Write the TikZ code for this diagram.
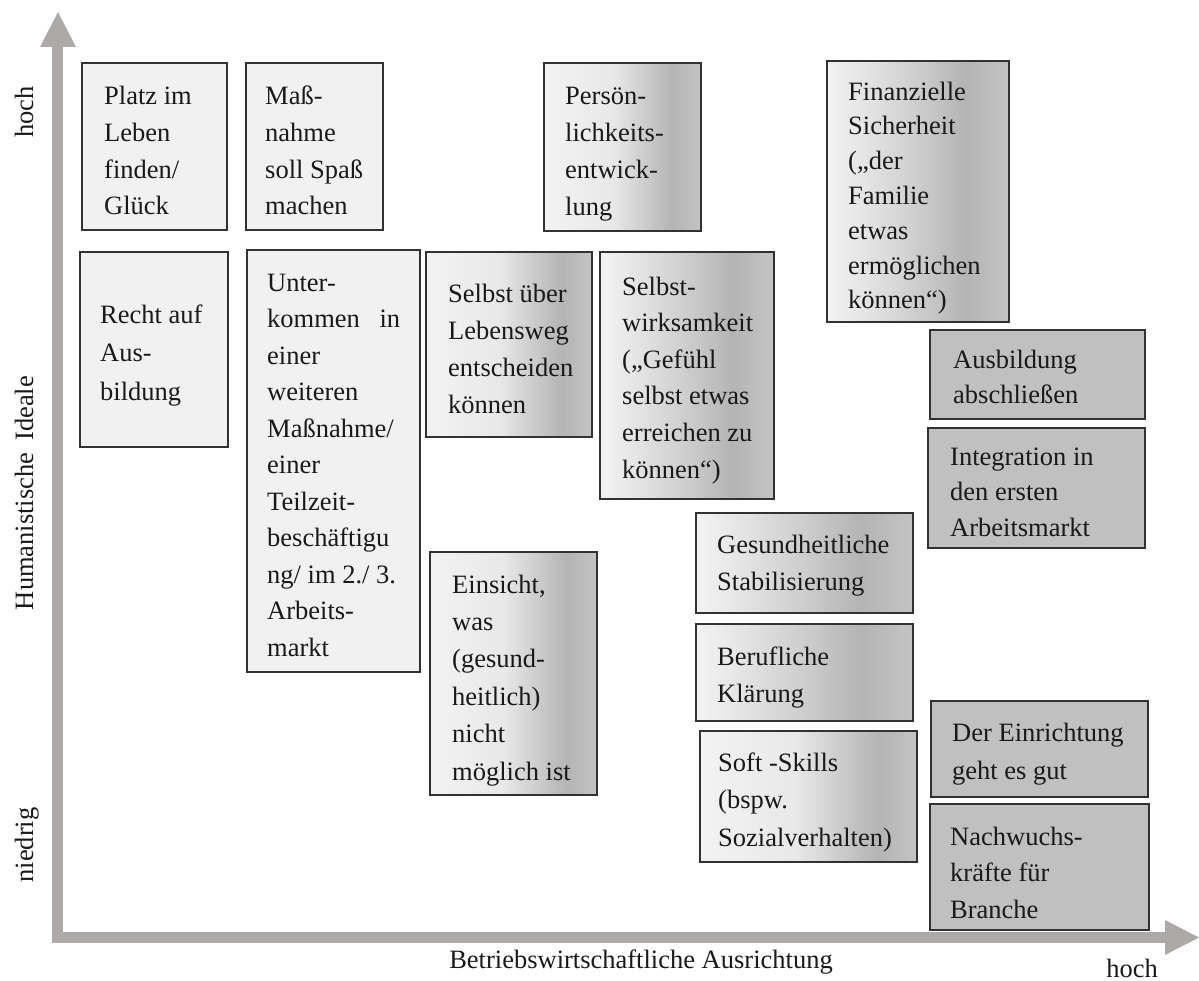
\documentclass[tikz,border=0pt]{standalone}
\usepackage{fontspec}
\setmainfont{Liberation Serif}
\definecolor{axisgray}{RGB}{173,169,169}
\definecolor{lightfill}{RGB}{241,241,241}
\definecolor{darkfill}{RGB}{192,192,192}
\definecolor{ga}{RGB}{243,243,243}
\definecolor{gb}{RGB}{232,232,232}
\definecolor{gc}{RGB}{205,205,205}
\definecolor{gd}{RGB}{180,180,180}
\definecolor{ge}{RGB}{196,196,196}
\definecolor{edgecol}{RGB}{50,50,50}
\definecolor{textcol}{RGB}{25,25,25}
\pgfdeclarehorizontalshading{gradA}{100bp}{color(0bp)=(ga); color(25bp)=(ga); color(47bp)=(gb); color(66bp)=(gd); color(75bp)=(ge); color(100bp)=(ge)}
\pgfdeclarehorizontalshading{gradB}{100bp}{color(0bp)=(ga); color(25bp)=(ga); color(33bp)=(gb); color(50bp)=(gc); color(63bp)=(gd); color(75bp)=(ge); color(100bp)=(ge)}
\tikzset{
  box/.style={draw=edgecol, line width=1.6pt, anchor=north west, inner sep=0pt, outer sep=0pt},
  lightbox/.style={box, fill=lightfill},
  darkbox/.style={box, fill=darkfill},
  gradbox/.style={box, shading=gradA},
  gradboxb/.style={box, shading=gradB},
  txt/.style={anchor=base west, inner sep=0pt, align=left, text=textcol, font=\fontsize{26.5}{#1}\selectfont},
  txt/.default=36.7,
  axlabel/.style={inner sep=0pt, text=textcol, font=\fontsize{26.5}{30}\selectfont},
}
\begin{document}
\begin{tikzpicture}[x=1pt, y=-1pt]
\useasboundingbox (0,0) rectangle (1199,981);
% axes
\coordinate (ytop) at (57,47);
\coordinate (orig) at (57,937);
\coordinate (xend) at (1165,937);
\draw[axisgray, line width=11pt, line join=miter] (ytop) -- (orig) -- (xend);
\fill[axisgray] (40,47) -- (76,47) -- (58,12) -- cycle;
\fill[axisgray] (1165,920) -- (1165,955) -- (1199,937.5) -- cycle;
% axis labels
\node[axlabel, rotate=90, anchor=base] (yhoch) at (33,112) {hoch};
\node[axlabel, rotate=90, anchor=base] (yname) at (33,493) {Humanistische\hspace{0.45em}Ideale};
\node[axlabel, rotate=90, anchor=base] (yniedrig) at (33,845) {niedrig};
\node[axlabel, anchor=base] (xname) at (641,968) {Betriebswirtschaftliche Ausrichtung};
\node[axlabel, anchor=base] (xhoch) at (1132,977) {hoch};
% boxes (text nodes are placed at the baseline of their last line)
\node[lightbox, minimum width=145pt, minimum height=167pt] (b1) at (82,63) {};
\node[txt] (t1) at (104,215) {Platz im\\Leben\\finden/\\Glück};
\node[lightbox, minimum width=137pt, minimum height=167pt] (b2) at (246,63) {};
\node[txt] (t2) at (265,215) {Maß-\\nahme\\soll Spaß\\machen};
\node[gradbox, minimum width=157pt, minimum height=168pt] (b3) at (544,63) {};
\node[txt=37] (t3) at (565,216) {Persön-\\lichkeits-\\entwick-\\lung};
\node[gradboxb, minimum width=182pt, minimum height=261pt] (b4) at (827,61) {};
\node[txt=34.8] (t4) at (848,309) {Finanzielle\\Sicherheit\\(„der\\Familie\\etwas\\ermöglichen\\können“)};
\node[lightbox, minimum width=148pt, minimum height=195pt] (b5) at (80,252) {};
\node[txt=38.5] (t5) at (100,400) {Recht auf\\Aus-\\bildung};
\node[lightbox, minimum width=173pt, minimum height=422pt] (b6) at (247,250) {};
\node[txt=36.5] (t6) at (267,656) {Unter-\\\hbox to 133pt{kommen\hfill in}\\einer\\weiteren\\Maßnahme/\\einer\\Teilzeit-\\beschäftigu\\ng/ im 2./ 3.\\Arbeits-\\markt};
\node[gradbox, minimum width=166pt, minimum height=185pt] (b7) at (426,252) {};
\node[txt] (t7) at (448,413) {Selbst über\\Lebensweg\\entscheiden\\können};
\node[gradboxb, minimum width=174pt, minimum height=247pt] (b8) at (600,252) {};
\node[txt=36.6] (t8) at (622,478) {Selbst-\\wirksamkeit\\(„Gefühl\\selbst etwas\\erreichen zu\\können“)};
\node[darkbox, minimum width=215pt, minimum height=89pt] (b9) at (930,330) {};
\node[txt=35] (t9) at (953,403) {Ausbildung\\abschließen};
\node[darkbox, minimum width=217pt, minimum height=120pt] (b10) at (928,428) {};
\node[txt=35.5] (t10) at (950,536) {Integration in\\den ersten\\Arbeitsmarkt};
\node[gradbox, minimum width=167pt, minimum height=243pt] (b11) at (430,552) {};
\node[txt=37.4] (t11) at (452,780) {Einsicht,\\was\\(gesund-\\heitlich)\\nicht\\möglich ist};
\node[gradboxb, minimum width=217pt, minimum height=100pt] (b12) at (696,513) {};
\node[txt=37] (t12) at (717,590) {Gesundheitliche\\Stabilisierung};
\node[gradboxb, minimum width=217pt, minimum height=97pt] (b13) at (696,624) {};
\node[txt=37] (t13) at (717,702) {Berufliche\\Klärung};
\node[gradbox, minimum width=217pt, minimum height=131pt] (b14) at (700,731) {};
\node[txt=37.5] (t14) at (718,846) {Soft -Skills\\(bspw.\\Sozialverhalten)};
\node[darkbox, minimum width=217pt, minimum height=96pt] (b15) at (931,701) {};
\node[txt=38] (t15) at (952,779) {Der Einrichtung\\geht es gut};
\node[darkbox, minimum width=219pt, minimum height=126pt] (b16) at (930,804) {};
\node[txt=36.5] (t16) at (950,918) {Nachwuchs-\\kräfte für\\Branche};
\end{tikzpicture}
\end{document}
